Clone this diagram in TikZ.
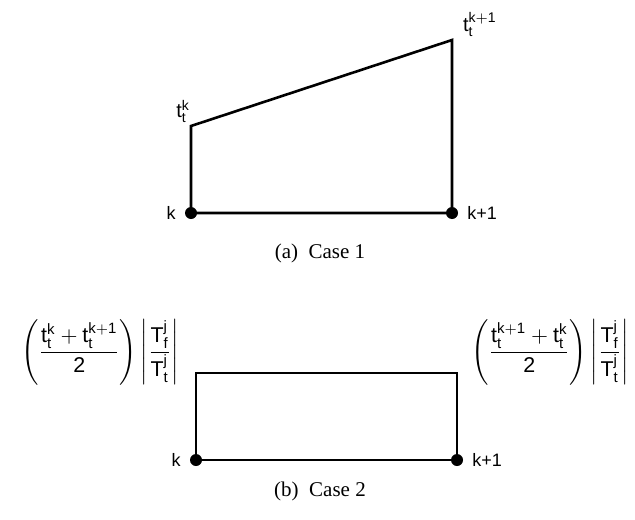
\documentclass[tikz,border=0pt]{standalone}
\usepackage{amsmath}
\usepackage{fontspec}
\setmainfont{Liberation Serif}
\setsansfont{Liberation Sans}
\usepackage{tikz}
\usetikzlibrary{positioning}
\newcommand{\tval}[1]{\mathsf{t}_{\mathsf{t}}^{\mathsf{#1}}}
\newcommand{\ratio}{\left|\dfrac{\mathsf{T}_{\mathsf{f}}^{\mathsf{j}}}{\mathsf{T}_{\mathsf{t}}^{\mathsf{j}}}\right|}

\begin{document}
\begin{tikzpicture}[x=0.5pt, y=-0.5pt, every node/.style={font=\sffamily\fontsize{9}{10}\selectfont},
    dot/.style={circle, fill, inner sep=0pt, minimum size=6pt},
    edge/.style={line width=1.3pt, line join=miter},
    lbl/.style={font=\sffamily\fontsize{10}{12}\selectfont},
    frm/.style={font=\sffamily\fontsize{10.7}{12}\selectfont, inner sep=0pt},
    capt/.style={font=\rmfamily\fontsize{10.5}{12}\selectfont}]
\useasboundingbox (0,0) rectangle (635,519);
% (a) Case 1
\node[dot] (ka) at (191,213) {};
\node[dot] (kpa) at (452,213) {};
\coordinate (tka) at (191,126);
\coordinate (tkpa) at (452,40);
\draw[edge] (ka.center) -- (tka) -- (tkpa) -- (kpa.center) -- (ka.center);
\node[left=1pt of ka] (lka) {k};
\node[right=1pt of kpa] (lkpa) {k+1};
\node[lbl, above left=-2pt and -3pt of tka] (vka) {$\tval{k}$};
\node[lbl, above right=-2pt and 2pt of tkpa] (vkpa) {$\tval{k+1}$};
\node[capt] (capa) at (320,253) {(a)\ \ Case 1};
% (b) Case 2
\node[dot] (kb) at (196,460) {};
\node[dot] (kpb) at (457,460) {};
\coordinate (tkb) at (196,373);
\coordinate (tkpb) at (457,373);
\draw[edge] (kb.center) -- (tkb) -- (tkpb) -- (kpb.center) -- (kb.center);
\node[left=1pt of kb] (lkb) {k};
\node[right=1pt of kpb] (lkpb) {k+1};
\node[frm] (avgb) at (100,352) {$\left(\dfrac{\tval{k}+\tval{k+1}}{\mathsf{2}}\right)\ratio$};
\node[frm] (avgpb) at (550,352) {$\left(\dfrac{\tval{k+1}+\tval{k}}{\mathsf{2}}\right)\ratio$};
\node[capt] (capb) at (320,491) {(b)\ \ Case 2};
\end{tikzpicture}
\end{document}
